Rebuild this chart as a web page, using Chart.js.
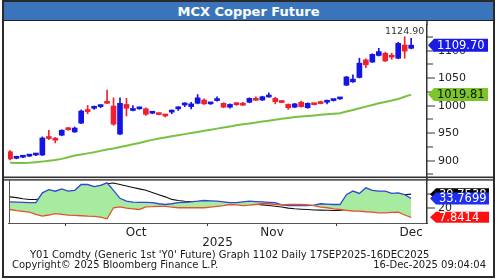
<!DOCTYPE html>
<html><head><meta charset="utf-8">
<script src="https://cdn.jsdelivr.net/npm/chart.js@4.4.1/dist/chart.umd.min.js"></script>
<style>
html,body{margin:0;padding:0;background:#fff;}
#wrap{position:relative;width:500px;height:280px;overflow:hidden;font-family:"DejaVu Sans",Verdana,sans-serif;background:#fff;}
#c{position:absolute;left:0;top:0;}
#frame{position:absolute;left:2px;top:0px;width:489px;height:274px;border:2px solid #2a2a2a;pointer-events:none;}
#title{position:absolute;left:4px;top:2px;width:489px;height:18px;background:#3a75bb;color:#fff;font-weight:bold;font-size:13px;text-align:center;line-height:20px;border-bottom:1px solid #222;}
.foot{position:absolute;font-size:10px;color:#1a1a1a;white-space:nowrap;line-height:12px;}
</style></head>
<body>
<div id="wrap">
<canvas id="c" width="500" height="280"></canvas>
<div id="frame"></div>
<div id="title">MCX Copper Future</div>
<div class="foot" style="left:30px;top:249px;">Y01 Comdty (Generic 1st 'Y0' Future) Graph 1102 Daily 17SEP2025-16DEC2025</div>
<div class="foot" style="left:12px;top:259px;">Copyright© 2025 Bloomberg Finance L.P.</div>
<div class="foot" style="right:14px;top:259px;">16-Dec-2025 09:04:04</div>
</div>
<script>
// ---- data ----
const opens  = [916,904,906,908,910,910,942,940,946,958,952,968,992,995,998,1007,999,948,1002,991,994,994,986,985,983,988,994,1001,998,1004,1010,1003,1009,1004,997,1003,1001.5,1006,1010.5,1010,1015.5,1013,1006.5,1002,997,1006,996,1002.5,1004,1006,1009,1012,1037,1043,1051,1083,1079,1091,1095,1090,1086,1110,1104];
const highs  = [918,908,908,911,912,943,955,942,956,960,961,992,1000,999,1001,1028,1014,1014,1013,1000,997,996,989,986,984,992,998,1005,1006,1020,1012,1005,1016,1005,1003,1005,1006,1014,1016,1017,1023,1015,1008,1003,1004,1008,1005,1004,1008,1010,1011,1013,1053,1056,1086,1085,1094,1104,1097,1095,1115,1124.9,1122];
const lows   = [901,903,905,907,909,909,938,932,945,955,951,967,985,993,996,1004,964,947,981,990,993,982,985,983,979,985,991,998,994,1003,1002,1002,1008,996,995,1000,1000,1005,1009.5,1009,1015,1003,1005,993,996,997,995,1001,1003,1003,1008,1011,1036,1042,1050,1069,1078,1090,1080,1084,1085,1086,1103];
const closes = [903,905,907,910,912,941,940,937,955,956,959,990,989,997,1000,1004,966,1004,995,992,995,984,988,983.5,981,989,995,1002,1003,1014,1003,1004,1010,997,1002,1001.5,1000.5,1013,1009.5,1016,1016.5,1007,1005.5,996,1003,998,1004,1001.5,1003.5,1007,1010,1013,1052,1048,1077,1074,1093,1098,1081,1088,1113,1099,1109.7];
const sma    = [896,895.5,895.5,896,897,898,899.5,901,903,906,909,911,913,915,917.5,920,922,924.5,927,929.5,932,935,937.5,940,942,944,946,948,950,952,954,956,958,960,962,964,966,967.5,969,971,972.5,974,976,977.5,979,980,981,982,983,984,985,986,989,992,995,998,1001,1004,1006.5,1009,1012,1016,1019.81];
const plusDI = [29.2,28.8,28.4,28,28,41.6,46,43.8,47,44,45,53,53,50,51.7,55.4,45,34,30,28.7,28.5,28.3,28,26.5,25.5,26.5,28,28.5,29.2,30,31,30.5,30,29,28,28,29,30,29.5,29,28.5,28,25,24,24,24,24,24.5,26.5,26,25.5,25.5,39,44,40.7,48.5,45,44,44,40.7,41.6,39,33.7699];
const minusDI = [18.6,17,16,15,12,9.4,11,13,12,10.8,10.5,10,9.4,9,8,5.8,21,22.3,20.5,19.5,18.6,22.3,22.5,23,23,22,21,21,21,21,21,22,23,24,25.5,25,24,24.5,25.5,26.5,26.5,25.5,25,25.5,25.5,25.5,25,24,22,21,19.5,18.6,17.5,16.5,16.3,15.5,15,14,14,14.5,15,11,7.8414];
const adx    = [36,35,33.5,32.4,32.4,34,36,38,40,41.5,43,45,47,49,51.5,54,55,53,51,49,47,45,42,39,36,32.5,31,30,29.5,29,28.7,28.5,28.3,28,28,27.5,27,26.5,26,25,24,23,22,20.5,19.6,19,18.5,18,17.7,17.5,17.3,17.2,18.5,21,24,27,29.5,32,34,35.5,37.5,39,39.7538];

const monthLabels = ['Oct','Nov','Dec'];
const monthStart  = [9, 31, 51];   // index of first candle of the month
const monthDays   = [22, 20, 23];  // trading days in month
const yearLabel   = '2025';
const mainMajorTicks = [900, 950, 1000, 1050, 1100];
const mainMinorTicks = [875, 925, 975, 1025, 1075, 1125];
const lowerTicks = [20, 40];

// ---- derived ----
const labels = opens.map((_, i) => i);
const last = opens.length - 1;
const boundaries = monthStart.map(s => s - 0.5);
const centers = monthStart.map((s, k) => s - 0.5 + monthDays[k] / 2);
const upCol = '#1414e6', dnCol = '#f0202e';
const candleColor = c => closes[c.dataIndex] >= opens[c.dataIndex] ? upCol : dnCol;

Chart.defaults.font.family = '"DejaVu Sans", Verdana, sans-serif';
Chart.defaults.color = '#222';

function drawTag(ctx, x0, yc, w, h, bg, fg, text, size) {
  ctx.beginPath();
  ctx.moveTo(x0, yc);
  ctx.lineTo(x0 + 6, yc - h / 2);
  ctx.lineTo(x0 + w, yc - h / 2);
  ctx.lineTo(x0 + w, yc + h / 2);
  ctx.lineTo(x0 + 6, yc + h / 2);
  ctx.closePath();
  ctx.fillStyle = bg; ctx.fill();
  ctx.fillStyle = fg;
  ctx.font = size + 'px "DejaVu Sans"';
  ctx.textBaseline = 'middle'; ctx.textAlign = 'left';
  ctx.fillText(text, x0 + 9, yc + 0.5);
}

const decor = {
  id: 'decor',
  afterDraw(chart) {
    const ctx = chart.ctx;
    const ys = chart.scales.y, y2 = chart.scales.y2, xs = chart.scales.x;
    const ca = chart.chartArea;
    const ax = ca.right;
    ctx.save();
    // axis tick marks and labels
    ctx.fillStyle = '#333';
    ctx.font = '11px "DejaVu Sans"';
    ctx.textAlign = 'left'; ctx.textBaseline = 'middle';
    mainMinorTicks.forEach(v => {
      const p = Math.round(ys.getPixelForValue(v));
      ctx.fillRect(ax, p - 0.5, 6, 1);
    });
    mainMajorTicks.forEach(v => {
      const p = Math.round(ys.getPixelForValue(v));
      ctx.fillRect(ax, p - 0.5, 8, 1);
      ctx.fillStyle = '#222';
      ctx.fillText(String(v), ax + 11, p + 0.5);
      ctx.fillStyle = '#333';
    });
    lowerTicks.forEach(v => {
      const p = Math.round(y2.getPixelForValue(v));
      ctx.fillRect(ax, p - 0.5, 8, 1);
      ctx.fillStyle = '#222';
      ctx.fillText(String(v), ax + 11, p + 0.5);
      ctx.fillStyle = '#333';
    });
    // panel separator
    ctx.fillRect(4, ys.bottom - 2.5, 489, 1.6);
    ctx.fillRect(4, ys.bottom + 0.2, 489, 1.4);
    // lower panel left border
    ctx.fillStyle = '#555';
    ctx.fillRect(ca.left + 1, y2.top + 1, 1, y2.bottom - y2.top - 1);
    // main axis line up to the title bar
    ctx.fillStyle = '#333';
    ctx.fillRect(ax - 0.75, 21, 1.5, ys.top - 21);
    // max label
    let mi = 0; highs.forEach((h, i) => { if (h > highs[mi]) mi = i; });
    ctx.fillStyle = '#333';
    ctx.font = '9.5px "DejaVu Sans"';
    ctx.textAlign = 'center'; ctx.textBaseline = 'bottom';
    ctx.fillText(highs[mi].toFixed(2), xs.getPixelForValue(mi), ys.getPixelForValue(highs[mi]) - 1);
    // tags main
    drawTag(ctx, ax + 1, ys.getPixelForValue(closes[last]), 60, 13, '#1a1ae8', '#fff', closes[last].toFixed(2), 11.5);
    drawTag(ctx, ax + 1, ys.getPixelForValue(sma[last]), 60, 13, '#7dc62a', '#111', sma[last].toFixed(2), 11.5);
    // tags lower
    drawTag(ctx, ax + 3, y2.getPixelForValue(adx[last]), 59, 12, '#000', '#fff', adx[last].toFixed(4), 11.5);
    drawTag(ctx, ax + 3, y2.getPixelForValue(plusDI[last]), 59, 12, '#1f2ff0', '#fff', plusDI[last].toFixed(4), 11.5);
    drawTag(ctx, ax + 3, y2.getPixelForValue(minusDI[last]), 59, 11, '#ff1010', '#fff', minusDI[last].toFixed(4), 11.5);
    ctx.restore();
  }
};

new Chart(document.getElementById('c'), {
  type: 'bar',
  data: {
    labels: labels,
    datasets: [
      { type: 'line', label: 'SMA', data: sma, yAxisID: 'y', borderColor: '#7ac142', borderWidth: 2, pointRadius: 0, tension: 0 },
      { type: 'bar', label: 'Wick', data: lows.map((l, i) => [l, highs[i]]), yAxisID: 'y', backgroundColor: candleColor, barThickness: 1, grouped: false, borderWidth: 0 },
      { type: 'bar', label: 'Body', data: opens.map((o, i) => [o, closes[i]]), yAxisID: 'y', backgroundColor: candleColor, barThickness: 5, minBarLength: 2, grouped: false, borderWidth: 0 },
      { type: 'line', label: '-DI', data: minusDI, yAxisID: 'y2', borderColor: '#e2542c', borderWidth: 1.3, pointRadius: 0, tension: 0 },
      { type: 'line', label: '+DI', data: plusDI, yAxisID: 'y2', borderColor: '#3346d8', borderWidth: 1.3, pointRadius: 0, tension: 0,
        fill: { target: 3, above: '#a6eba0', below: '#e6a6cc' } },
      { type: 'line', label: 'ADX', data: adx, yAxisID: 'y2', borderColor: '#111', borderWidth: 1.1, pointRadius: 0, tension: 0 }
    ]
  },
  options: {
    responsive: false,
    animation: false,
    layout: { padding: { left: 8, right: 3, top: 25, bottom: 30 } },
    plugins: { legend: { display: false }, tooltip: { enabled: false }, title: { display: false } },
    scales: {
      x: {
        type: 'linear', min: -0.31, max: 64.45, offset: false,
        afterBuildTicks: s => { s.ticks = boundaries.concat(centers).map(v => ({ value: v })); },
        afterFit: s => { s.height = 27; },
        ticks: {
          autoSkip: false, maxRotation: 0, padding: 0, font: { size: 12 }, color: '#222',
          callback: v => { const k = centers.findIndex(c => Math.abs(c - v) < 1e-6); return k >= 0 ? monthLabels[k] : ''; }
        },
        grid: { drawOnChartArea: false, offset: false, tickLength: 3,
          tickColor: c => (c.tick && boundaries.some(b => Math.abs(b - c.tick.value) < 1e-6)) ? '#333' : 'rgba(0,0,0,0)' },
        border: { display: true, color: '#555', width: 1 },
        title: { display: true, text: yearLabel, font: { size: 12 }, color: '#222', padding: 0 }
      },
      y: {
        type: 'linear', position: 'right', stack: 'panels', stackWeight: 154, min: 866.4, max: 1146.4,
        afterBuildTicks: s => { s.ticks = mainMajorTicks.map(v => ({ value: v })); },
        afterFit: s => { s.width = 70; },
        ticks: { display: false },
        grid: { display: false },
        border: { display: true, color: '#333', width: 1.5 }
      },
      y2: {
        type: 'linear', position: 'right', stack: 'panels', stackWeight: 44, min: 0, max: 60.6,
        afterBuildTicks: s => { s.ticks = lowerTicks.map(v => ({ value: v })); },
        afterFit: s => { s.width = 70; },
        ticks: { display: false },
        grid: { display: false },
        border: { display: true, color: '#333', width: 1.5 }
      }
    }
  },
  plugins: [decor]
});
</script>
</body></html>
